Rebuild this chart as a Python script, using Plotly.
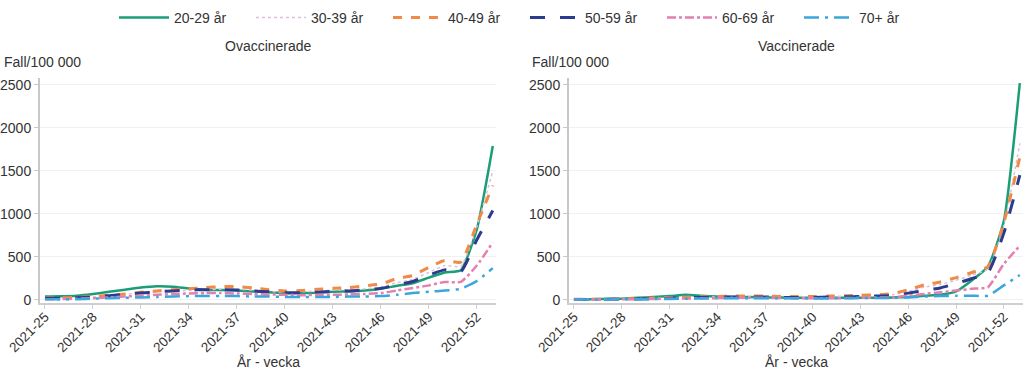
import plotly.graph_objects as go

weeks = ["2021-%02d" % w for w in range(25, 53)] + ["2022-01"]
tick_labels = ["2021-25", "2021-28", "2021-31", "2021-34", "2021-37", "2021-40",
               "2021-43", "2021-46", "2021-49", "2021-52"]
groups = ["20-29 år", "30-39 år", "40-49 år", "50-59 år", "60-69 år", "70+ år"]

# Ovaccinerade
u_20_29 = [40, 42, 50, 70, 95, 120, 145, 160, 155, 135, 120, 115, 110, 100, 90,
           80, 80, 85, 95, 100, 110, 130, 165, 195, 260, 320, 345, 820, 1790]
u_30_39 = [20, 20, 25, 35, 50, 65, 80, 95, 105, 110, 120, 125, 125, 115, 100,
           90, 95, 105, 115, 120, 130, 150, 200, 240, 320, 400, 390, 850, 1500]
u_40_49 = [25, 25, 30, 40, 55, 70, 90, 105, 120, 130, 145, 155, 155, 140, 120,
           105, 110, 125, 135, 145, 165, 185, 250, 285, 380, 460, 440, 880, 1330]
u_50_59 = [20, 20, 25, 35, 50, 65, 80, 95, 105, 115, 120, 120, 115, 105, 95,
           85, 85, 90, 100, 105, 115, 135, 175, 215, 290, 350, 330, 700, 1040]
u_60_69 = [10, 10, 15, 20, 30, 40, 50, 60, 70, 75, 80, 80, 75, 70, 65,
           60, 55, 60, 60, 65, 70, 80, 110, 140, 170, 210, 210, 400, 670]
u_70 = [10, 10, 10, 15, 20, 25, 30, 35, 40, 45, 45, 45, 45, 40, 40,
        35, 35, 35, 35, 40, 40, 45, 60, 80, 95, 110, 130, 220, 370]

# Vaccinerade
v_20_29 = [10, 10, 12, 15, 25, 35, 45, 60, 50, 40, 35, 35, 30, 30, 25,
           25, 25, 25, 25, 25, 30, 35, 50, 60, 100, 230, 390, 920, 2520]
v_30_39 = [5, 5, 8, 10, 15, 20, 25, 30, 35, 35, 40, 40, 35, 35, 35,
           35, 40, 45, 50, 55, 60, 100, 150, 180, 230, 290, 360, 870, 1820]
v_40_49 = [8, 8, 10, 12, 18, 22, 28, 32, 38, 40, 45, 45, 45, 40, 40,
           40, 45, 50, 55, 60, 75, 120, 175, 210, 260, 320, 390, 900, 1660]
v_50_59 = [5, 5, 8, 10, 12, 15, 20, 25, 30, 32, 35, 35, 35, 30, 30,
           30, 35, 38, 40, 45, 50, 80, 110, 140, 190, 250, 320, 780, 1450]
v_60_69 = [5, 5, 5, 8, 10, 12, 15, 18, 20, 22, 25, 25, 25, 22, 20,
           20, 20, 22, 25, 28, 30, 50, 70, 90, 110, 130, 150, 420, 630]
v_70 = [5, 5, 5, 5, 8, 10, 12, 15, 18, 20, 20, 20, 20, 20, 18,
        18, 18, 20, 22, 22, 25, 30, 40, 45, 50, 50, 50, 170, 290]

unvacc = [u_20_29, u_30_39, u_40_49, u_50_59, u_60_69, u_70]
vacc = [v_20_29, v_30_39, v_40_49, v_50_59, v_60_69, v_70]

colors = ["#1b9e77", "#dcbfdc", "#ef8a47", "#2b3c8f", "#e57fb0", "#3aa6dc"]
dashes = ["solid", "dot", "dash", "longdash", "dashdot", "longdashdot"]
widths = [2.5, 1.5, 3, 3, 2.5, 2.5]

W, H = 1035, 382
top, bottom = 78, 303
ph = bottom - top
FONT = "Liberation Sans, Arial, sans-serif"

fig = go.Figure()
for i, g in enumerate(groups):
    fig.add_trace(go.Scatter(x=weeks, y=unvacc[i], name=g, mode="lines",
                             legendgroup=g, showlegend=True,
                             line=dict(color=colors[i], dash=dashes[i], width=widths[i], shape="spline", smoothing=0.5),
                             xaxis="x", yaxis="y"))
for i, g in enumerate(groups):
    fig.add_trace(go.Scatter(x=weeks, y=vacc[i], name=g, mode="lines",
                             legendgroup=g, showlegend=False,
                             line=dict(color=colors[i], dash=dashes[i], width=widths[i], shape="spline", smoothing=0.5),
                             xaxis="x2", yaxis="y2"))

xcommon = dict(type="category", range=[-0.31, 28.2], tickmode="array", tickvals=tick_labels,
               ticktext=tick_labels, tickangle=-45, showgrid=False, showline=True, automargin=False,
               linecolor="#cfcfcf", linewidth=1.5, ticks="outside", ticklen=4, tickcolor="#cfcfcf",
               ticklabelstandoff=-5,
               tickfont=dict(size=13.5, color="#333333", family=FONT), zeroline=False)
ycommon = dict(range=[-35, 2580], tickvals=[0, 500, 1000, 1500, 2000, 2500], showgrid=True,
               gridcolor="#f1f1f1", gridwidth=1, showline=True, linecolor="#c8c8c8", linewidth=2,
               ticks="outside", ticklen=4, tickcolor="#c8c8c8", zeroline=False, automargin=False,
               tickfont=dict(size=14, color="#333333", family=FONT))

fig.update_layout(
    width=W, height=H, autosize=False,
    margin=dict(l=0, r=0, t=top, b=H - bottom, autoexpand=False),
    paper_bgcolor="white", plot_bgcolor="white",
    font=dict(family=FONT, size=14, color="#333333"),
    xaxis=dict(domain=[40 / W, 496 / W], anchor="y", **xcommon),
    yaxis=dict(domain=[0, 1], anchor="x", **ycommon),
    xaxis2=dict(domain=[569 / W, 1023 / W], anchor="y2", **xcommon),
    yaxis2=dict(domain=[0, 1], anchor="x2", **ycommon),
    legend=dict(orientation="h", x=525 / W, xanchor="center", y=1 + (top - 18) / ph, yanchor="middle",
                font=dict(size=14, color="#333333", family=FONT), itemwidth=50,
                entrywidth=72, entrywidthmode="pixels",
                bgcolor="rgba(0,0,0,0)"),
    showlegend=True,
)

ann = []
for cx, title in [((40 + 496) / 2, "Ovaccinerade"), ((569 + 1023) / 2, "Vaccinerade")]:
    ann.append(dict(text=title, x=cx / W, y=1 + (top - 46) / ph, xref="paper", yref="paper",
                    showarrow=False, xanchor="center", yanchor="middle",
                    font=dict(size=14, color="#333333", family=FONT)))
    ann.append(dict(text="År - vecka", x=cx / W, y=-(362 - bottom) / ph, xref="paper", yref="paper",
                    showarrow=False, xanchor="center", yanchor="middle",
                    font=dict(size=14, color="#333333", family=FONT)))
for lx in [2, 530]:
    ann.append(dict(text="Fall/100 000", x=lx / W, y=1 + (top - 62) / ph, xref="paper", yref="paper",
                    showarrow=False, xanchor="left", yanchor="middle",
                    font=dict(size=14, color="#333333", family=FONT)))
fig.update_layout(annotations=ann)

fig.write_html("out.html", config={"displayModeBar": False},
               post_script="document.body.style.margin='0';document.body.style.padding='0';")
